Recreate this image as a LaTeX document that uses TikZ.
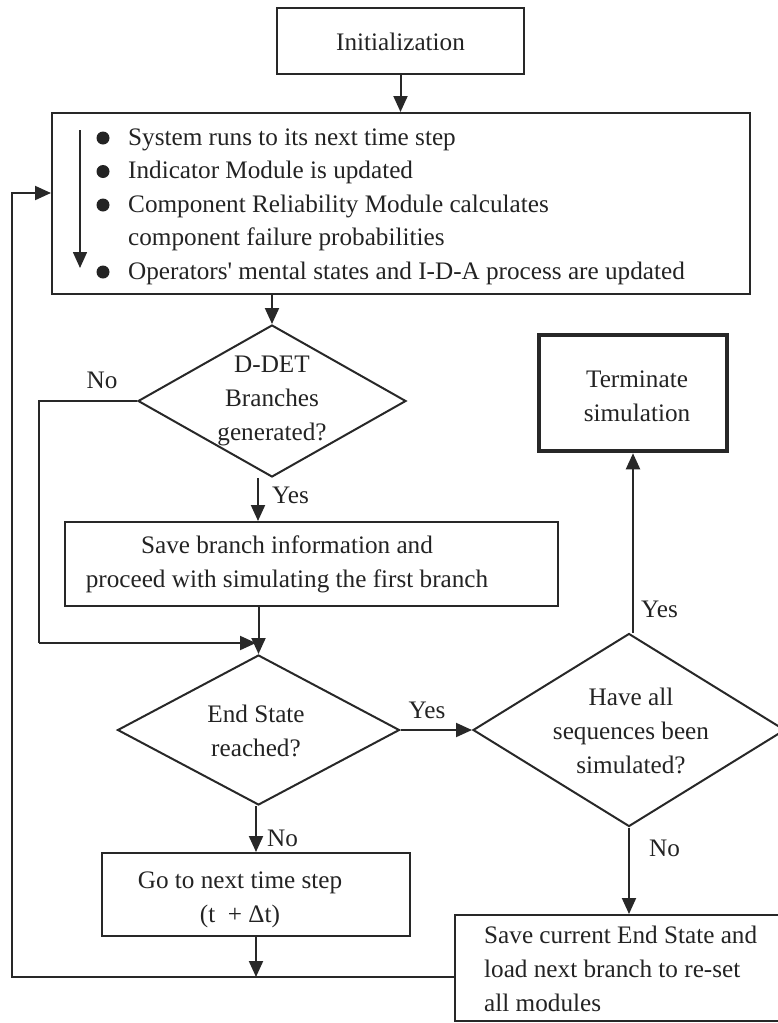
\documentclass[tikz,border=0pt]{standalone}
\usepackage{fontspec}
\setmainfont{Liberation Serif}
\usetikzlibrary{shapes.geometric,arrows.meta}
\definecolor{lc}{RGB}{40,40,40}
\definecolor{tc}{RGB}{35,35,35}
\newcommand\bodyfont{\fontsize{25.2}{34}\selectfont}
% stacked lines whose first baseline is the box baseline
\newcommand\ctrlines[1]{\vtop{\halign{\hfil##\hfil\cr#1\crcr}}}
\newcommand\leftlines[1]{\vtop{\halign{##\hfil\cr#1\crcr}}}
\tikzset{
  x=1pt, y=-1pt,
  box/.style={rectangle, draw=lc, line width=2pt, inner sep=0pt},
  dia/.style={diamond, draw=lc, line width=2pt, inner sep=0pt},
  txt/.style={text=tc, font=\bodyfont, inner sep=0pt, anchor=base},
  ltxt/.style={txt, anchor=base west},
  bullet/.style={circle, fill=tc, inner sep=0pt, minimum size=13pt},
  conn/.style={draw=lc, line width=2pt},
  arr/.style={conn, -{Triangle[length=16pt,width=14pt]}},
}
\begin{document}
\begin{tikzpicture}
\useasboundingbox (0,0) rectangle (778,1023);

% boxes and decisions
\node[box, minimum width=247pt, minimum height=66pt] (init) at (400.5,41) {};
\node[box, minimum width=698pt, minimum height=181pt] (main) at (401,203.5) {};
\node[dia, minimum width=268pt, minimum height=152pt] (d1) at (272,401) {};
\node[box, minimum width=493pt, minimum height=84pt] (save1) at (311.5,564) {};
\node[box, line width=4.5pt, minimum width=188pt, minimum height=116pt] (term) at (633,393) {};
\node[dia, minimum width=282pt, minimum height=150pt] (d2) at (258.5,730) {};
\node[dia, minimum width=312pt, minimum height=193pt] (d3) at (629,730) {};
\node[box, minimum width=308pt, minimum height=83pt] (go) at (256,894.5) {};
\node[box, minimum width=335pt, minimum height=106pt] (save2) at (622.5,968) {};

% texts
\node[txt] (initT) at (400.5,50.5) {Initialization};
\node[bullet] (b1) at (103,138) {};
\node[bullet] (b2) at (103,171.5) {};
\node[bullet] (b3) at (103,205) {};
\node[bullet] (b4) at (103,272) {};
\node[ltxt] (l1) at (128,145) {System runs to its next time step};
\node[ltxt] (l2) at (128,178.5) {Indicator Module is updated};
\node[ltxt] (l3) at (128,212) {Component Reliability Module calculates};
\node[ltxt] (l4) at (128,245.5) {component failure probabilities};
\node[ltxt] (l5) at (128,279) {Operators\textquotesingle{} mental states and I-D-A process are updated};
\node[txt] (d1T) at (272,372) {\ctrlines{D-DET\cr Branches\cr generated?}};
\node[txt] (save1T) at (287,553) {\ctrlines{Save branch information and\cr proceed with simulating the first branch}};
\node[txt] (termT) at (637,387) {\ctrlines{Terminate\cr simulation}};
\node[txt] (d2T) at (256,722) {\ctrlines{End State\cr reached?}};
\node[txt] (d3T) at (631,705) {\ctrlines{Have all\cr sequences been\cr simulated?}};
\node[txt] (goT) at (240,888) {\ctrlines{Go to next time step\cr (t~~+ Δt)}};
\node[ltxt] (save2T) at (484,943) {\leftlines{Save current End State and\cr load next branch to re-set\cr all modules}};

% branch labels
\node[txt, anchor=center] (no1) at (102,380) {No};
\node[txt, anchor=west] (yes1) at (272,495) {Yes};
\node[txt, anchor=center] (yes2) at (427,710) {Yes};
\node[txt, anchor=west] (yes3) at (641,609) {Yes};
\node[txt, anchor=west] (no2) at (267,838) {No};
\node[txt, anchor=west] (no3) at (649,848) {No};

% helper points for the routed lines
\coordinate (ia1) at (80,130);
\coordinate (ia2) at (80,268);
\coordinate (xa) at (258,0);
\coordinate (nl) at (39,643);
\coordinate (nj) at (256,643);
\coordinate (fbl) at (12,977);
\coordinate (fbt) at (12,193);

% connectors
\draw[arr, line width=1.6pt] (ia1) -- (ia2);
\draw[arr] (init.south) -- (init.south |- main.north);
\draw[arr] (d1.north |- main.south) -- (d1.north);
\draw[arr] (xa |- d1.south) -- (xa |- save1.north);
\draw[conn] (d1.west) -| (nl);
\draw[arr] (nl) -- (nj);
\draw[arr] (d2.north |- save1.south) -- (d2.north);
\draw[arr] (d2.east) -- (d3.west);
\draw[arr] (term.south |- d3.north) -- (term.south);
\draw[arr] (d3.south) -- (d3.south |- save2.north);
\draw[arr] (go.north |- d2.south) -- (go.north);
\draw[arr] (go.south) -- (go.south |- fbl);
\draw[arr] (save2.west |- fbl) -- (fbl) -- (fbt) -- (fbt -| main.west);
\end{tikzpicture}
\end{document}
